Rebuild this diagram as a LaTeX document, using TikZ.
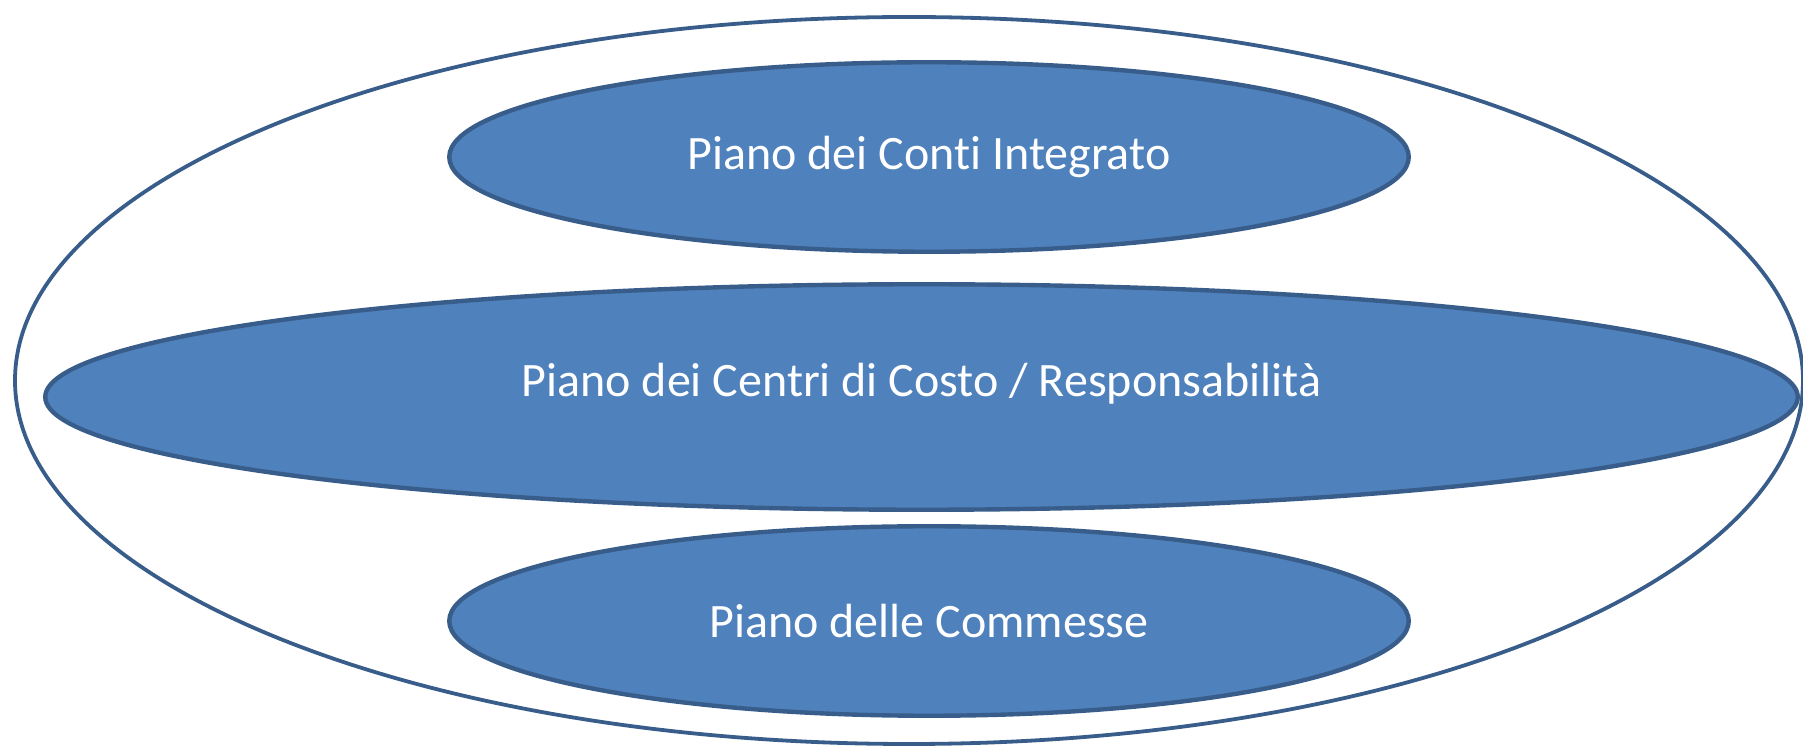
\documentclass[tikz,border=0pt]{standalone}
\usepackage{fontspec}
\setmainfont{Carlito}[Ligatures=NoCommon]
\usepackage{tikz}
\usetikzlibrary{shapes.geometric}
\usetikzlibrary{positioning}

\definecolor{planfill}{HTML}{4F81BD}
\definecolor{planline}{HTML}{385D8A}

\begin{document}
\begin{tikzpicture}[x=0.5pt, y=-0.5pt,
    plan/.style={ellipse, draw=planline, line width=2.2pt, fill=planfill,
        text=white, inner sep=0pt, font=\fontsize{24}{29}\selectfont}]
    \useasboundingbox (0,0) rectangle (1803,747);
    % outer ring
    \node[ellipse, draw=planline, line width=1.9pt, minimum width=894pt,
        minimum height=363.5pt] (ring) at (909,380.5) {};
    \node[plan, minimum width=479.75pt, minimum height=94.75pt] (conti) at (929,157) {Piano dei Conti Integrato};
    \node[plan, minimum width=876.25pt, minimum height=112.75pt, text height=12pt, text depth=12pt] (centri) at (921.5,397) {Piano dei Centri di Costo / Responsabilità};
    \node[plan, minimum width=479.75pt, minimum height=94.75pt] (commesse) at (929,621) {Piano delle Commesse};
\end{tikzpicture}
\end{document}
